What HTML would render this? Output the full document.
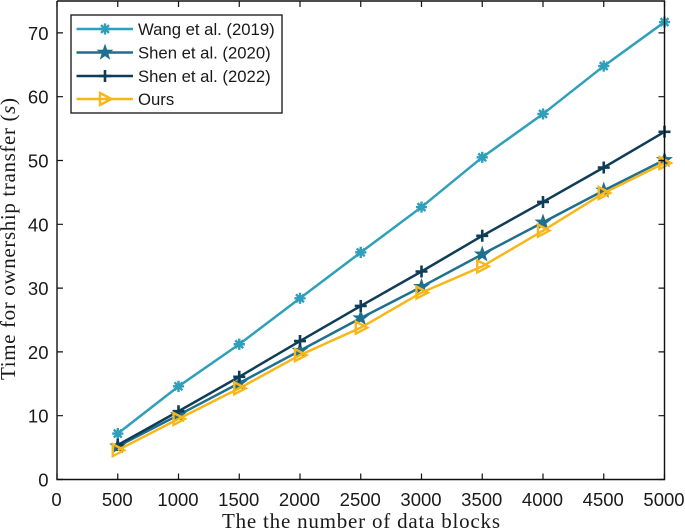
<!DOCTYPE html>
<html>
<head>
<meta charset="utf-8">
<style>
html,body{margin:0;padding:0;background:#fff;width:685px;height:530px;overflow:hidden}
svg{display:block}
text{fill:#1a1a1a}
.tick{font:18.5px "Liberation Sans",sans-serif}
.leg{font:16.7px "Liberation Sans",sans-serif}
.title{font:21px "Liberation Serif",serif}
</style>
</head>
<body>
<svg id="chart" width="685" height="530" viewBox="0 0 685 530" xmlns="http://www.w3.org/2000/svg">
<rect x="57" y="1" width="607.5" height="478.5" fill="#fff"/>
<g id="series" fill="none"></g>
<g id="axes"></g>
<text class="title" x="361" y="528" text-anchor="middle" textLength="278" lengthAdjust="spacing">The the number of data blocks</text>
<text class="title" transform="translate(15,239) rotate(-90)" text-anchor="middle" textLength="282" lengthAdjust="spacing">Time for ownership transfer (<tspan font-style="italic">s</tspan>)</text>
<g id="legend"></g>
</svg>
<script>
const categories = [500,1000,1500,2000,2500,3000,3500,4000,4500,5000];
const wang2019 = [7.2,14.6,21.2,28.4,35.6,42.7,50.5,57.3,64.8,71.7];
const shen2020 = [5.2,10.1,15.1,20.2,25.3,30.2,35.3,40.3,45.3,50.1];
const shen2022 = [5.4,10.7,16.1,21.7,27.2,32.6,38.2,43.5,48.9,54.5];
const ours = [4.6,9.5,14.3,19.5,23.8,29.3,33.4,39.0,44.9,49.6];
const xTicks = [0,500,1000,1500,2000,2500,3000,3500,4000,4500,5000];
const yTicks = [0,10,20,30,40,50,60,70];
const seriesNames = ['Wang et al. (2019)','Shen et al. (2020)','Shen et al. (2022)','Ours'];
const seriesColors = ['#2f9fbb','#1f6f8f','#0f3d57','#f7b719'];
const seriesMarkers = ['asterisk','star','plus','triangle'];
const seriesValues = [wang2019,shen2020,shen2022,ours];
const xMax = 5000, yMax = 75;
const NS = 'http://www.w3.org/2000/svg';
const L = 57, R = 664.5, T = 1, B = 479.5;
function xs(v){ return L + (R - L) * v / xMax; }
function ys(v){ return B - (B - T) * v / yMax; }
function mk(tag, attrs, parent){
  const el = document.createElementNS(NS, tag);
  for (const k in attrs) el.setAttribute(k, attrs[k]);
  parent.appendChild(el);
  return el;
}
function drawMarker(kind, cx, cy, color, parent){
  let el;
  if (kind === 'asterisk') {
    el = mk('path', {d:[0,45,90,135].map(function(a){
      const r = a * Math.PI / 180, dx = 5.6 * Math.sin(r), dy = 5.6 * Math.cos(r);
      return 'M' + (cx - dx) + ' ' + (cy - dy) + 'L' + (cx + dx) + ' ' + (cy + dy);
    }).join(''), stroke:color, 'stroke-width':2.4, fill:'none'}, parent);
  } else if (kind === 'star') {
    const pts = [];
    for (let i = 0; i < 10; i++) {
      const r = i % 2 ? 3.2 : 8, a = i * Math.PI / 5;
      pts.push((cx + r * Math.sin(a)) + ',' + (cy - r * Math.cos(a)));
    }
    el = mk('polygon', {points:pts.join(' '), fill:color, stroke:color, 'stroke-width':0.6}, parent);
  } else if (kind === 'plus') {
    el = mk('path', {d:'M' + (cx - 6) + ' ' + cy + 'H' + (cx + 6) + 'M' + cx + ' ' + (cy - 6) + 'V' + (cy + 6), stroke:color, 'stroke-width':2.6, fill:'none'}, parent);
  } else {
    el = mk('polygon', {points:(cx - 5) + ',' + (cy - 6) + ' ' + (cx + 6.5) + ',' + cy + ' ' + (cx - 5) + ',' + (cy + 6), fill:'none', stroke:color, 'stroke-width':2.4}, parent);
  }
  return el;
}
const seriesLayer = document.getElementById('series');
seriesValues.forEach(function(vals, i){
  const g = mk('g', {}, seriesLayer);
  
  
  const line = mk('polyline', {points:vals.map(function(v, j){ return xs(categories[j]) + ',' + ys(v); }).join(' '), fill:'none', stroke:seriesColors[i], 'stroke-width':2.5}, g);
  
  
  vals.forEach(function(v, j){
    const m = drawMarker(seriesMarkers[i], xs(categories[j]), ys(v), seriesColors[i], g);
    
    
  });
});
const axes = document.getElementById('axes');
const frame = mk('path', {d:'M' + L + ' ' + T + 'V' + B + 'H' + R + 'V' + T + 'H' + L, fill:'none', stroke:'#111', 'stroke-width':1.4}, axes);


xTicks.forEach(function(t){
  const x = xs(t);
  const tick = mk('path', {d:'M' + x + ' ' + B + 'v-6M' + x + ' ' + T + 'v6', stroke:'#111', 'stroke-width':1.2}, axes);
  
  
  const label = mk('text', {x:x - 0.5, y:506, 'text-anchor':'middle', class:'tick'}, axes);
  label.textContent = t;
  
  
});
yTicks.forEach(function(t){
  const y = ys(t);
  const tick = mk('path', {d:'M' + L + ' ' + y + 'h6M' + R + ' ' + y + 'h-6', stroke:'#111', 'stroke-width':1.2}, axes);
  
  
  const label = mk('text', {x:48.5, y:y + 7, 'text-anchor':'end', class:'tick'}, axes);
  label.textContent = t;
  
  
});
const legend = document.getElementById('legend');
const box = mk('rect', {x:71, y:15, width:211, height:98, fill:'#fff', stroke:'#111', 'stroke-width':1.3}, legend);


const legendY = [29, 52.5, 76, 99];
seriesNames.forEach(function(name, i){
  const g = mk('g', {}, legend);
  
  
  mk('line', {x1:76.5, x2:133, y1:legendY[i], y2:legendY[i], stroke:seriesColors[i], 'stroke-width':2.5}, g);
  drawMarker(seriesMarkers[i], 105, legendY[i], seriesColors[i], g);
  const label = mk('text', {x:138, y:legendY[i] + 6, class:'leg'}, g);
  label.textContent = name;
  
  
});
</script>
</body>
</html>
